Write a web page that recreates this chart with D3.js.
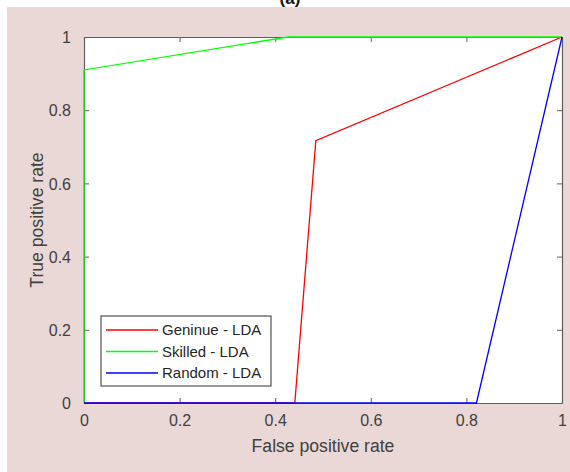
<!DOCTYPE html>
<html>
<head>
<meta charset="utf-8">
<script src="https://cdn.jsdelivr.net/npm/d3@7"></script>
<style>
  html, body { margin: 0; padding: 0; background: #ffffff; }
  svg { display: block; }
  text { font-family: "Liberation Sans", Arial, sans-serif; }
</style>
</head>
<body>
<svg id="chart" width="570" height="472"></svg>
<script>
// ROC curves for the three forgery classes (false positive rate, true positive rate)
const genuineFpr = [0, 0.441, 0.485, 1];
const genuineTpr = [0, 0, 0.717, 1];
const skilledFpr = [0, 0, 0.427, 1];
const skilledTpr = [0, 0.91, 1, 1];
const randomFpr  = [0, 0.821, 1];
const randomTpr  = [0, 0, 1];

const seriesNames  = ["Geninue - LDA", "Skilled - LDA", "Random - LDA"];
const seriesColors = ["#ff0000", "#00ff00", "#0000ff"];

const xTicks = [0, 0.2, 0.4, 0.6, 0.8, 1];
const yTicks = [0, 0.2, 0.4, 0.6, 0.8, 1];

const series = [
  { name: seriesNames[0], color: seriesColors[0], pts: genuineFpr.map((x, i) => [x, genuineTpr[i]]) },
  { name: seriesNames[1], color: seriesColors[1], pts: skilledFpr.map((x, i) => [x, skilledTpr[i]]) },
  { name: seriesNames[2], color: seriesColors[2], pts: randomFpr.map((x, i) => [x, randomTpr[i]]) }
];

const svg = d3.select("#chart");
const W = 570, H = 472;
const plot = { left: 84, top: 37, right: 562, bottom: 403 };
const axisColor = "#5f5f5f";
const textColor = "#404040";

// figure background
svg.append("rect").attr("x", 7).attr("y", 7).attr("width", W - 7).attr("height", H - 7)
  .attr("fill", "#ead8d6");

// panel caption, clipped by the figure top
svg.append("text").attr("x", 290).attr("y", 4).attr("text-anchor", "middle")
  .attr("font-size", 17).attr("font-family", "Liberation Serif, serif")
  .attr("font-weight", "bold").attr("fill", "#111").text("(a)");

const x = d3.scaleLinear().domain([0, 1]).range([plot.left, plot.right]);
const y = d3.scaleLinear().domain([0, 1]).range([plot.bottom, plot.top]);

// plot area
svg.append("rect").attr("x", plot.left).attr("y", plot.top)
  .attr("width", plot.right - plot.left).attr("height", plot.bottom - plot.top)
  .attr("fill", "#ffffff");

// axes with inward ticks on all four sides
const tickLen = 5;
const bottomAxis = svg.append("g").attr("transform", `translate(0,${plot.bottom})`)
  .call(d3.axisBottom(x).tickValues(xTicks).tickFormat(d3.format("~g")).tickSizeInner(-tickLen).tickSizeOuter(0).tickPadding(12));
const topAxis = svg.append("g").attr("transform", `translate(0,${plot.top})`)
  .call(d3.axisTop(x).tickValues(xTicks).tickFormat("").tickSizeInner(-tickLen).tickSizeOuter(0));
const leftAxis = svg.append("g").attr("transform", `translate(${plot.left},0)`)
  .call(d3.axisLeft(y).tickValues(yTicks).tickFormat(d3.format("~g")).tickSizeInner(-tickLen).tickSizeOuter(0).tickPadding(13));
const rightAxis = svg.append("g").attr("transform", `translate(${plot.right},0)`)
  .call(d3.axisRight(y).tickValues(yTicks).tickFormat("").tickSizeInner(-tickLen).tickSizeOuter(0));

[bottomAxis, topAxis, leftAxis, rightAxis].forEach(g => {
  g.select(".domain").attr("stroke", axisColor).attr("stroke-width", 1.2);
  g.selectAll(".tick line").attr("stroke", axisColor).attr("stroke-width", 1);
  g.selectAll(".tick text").attr("fill", textColor).attr("font-size", 16)
    .attr("font-family", "Liberation Sans, Arial, sans-serif");
});
bottomAxis.selectAll(".tick text").attr("dy", "0.71em");
leftAxis.selectAll(".tick text").attr("dy", "0.35em");

// curves
const line = d3.line().x(d => x(d[0])).y(d => y(d[1]));
svg.append("g").selectAll("path").data(series).join("path")
  .attr("d", d => line(d.pts))
  .attr("fill", "none")
  .attr("stroke", d => d.color)
  .attr("stroke-width", 1.3);

// axis titles
svg.append("text").attr("x", (plot.left + plot.right) / 2).attr("y", 452)
  .attr("text-anchor", "middle").attr("font-size", 17.6).attr("fill", textColor)
  .text("False positive rate");
svg.append("text")
  .attr("transform", `translate(43,${(plot.top + plot.bottom) / 2}) rotate(-90)`)
  .attr("text-anchor", "middle").attr("font-size", 17.6).attr("fill", textColor)
  .text("True positive rate");

// legend
const lg = svg.append("g").attr("transform", "translate(101,316)");
lg.append("rect").attr("width", 170).attr("height", 70)
  .attr("fill", "#ffffff").attr("stroke", "#303030").attr("stroke-width", 1);
const rows = lg.selectAll("g").data(series).join("g")
  .attr("transform", (d, i) => `translate(0,${14 + i * 21.5})`);
rows.append("line").attr("x1", 5).attr("x2", 57).attr("y1", 0).attr("y2", 0)
  .attr("stroke", d => d.color).attr("stroke-width", 1.3);
rows.append("text").attr("x", 61).attr("y", 0).attr("dy", "0.35em")
  .attr("font-size", 15).attr("fill", "#262626").text(d => d.name);
</script>
</body>
</html>
